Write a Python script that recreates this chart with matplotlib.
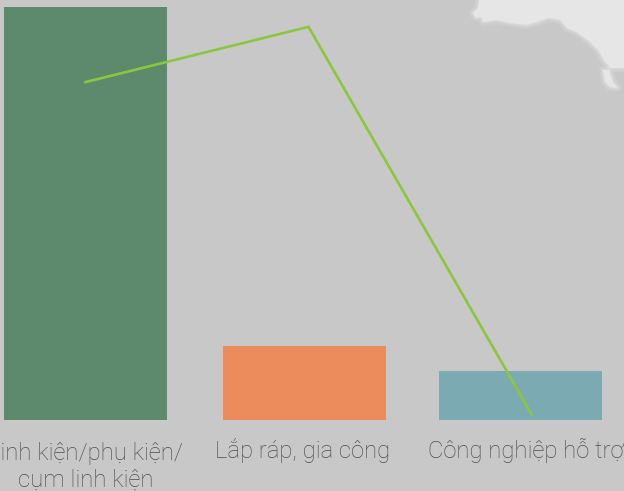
import matplotlib
matplotlib.use("Agg")
import matplotlib.pyplot as plt
from matplotlib.patches import Polygon

categories = ["Linh kiện/phụ kiện/\ncụm linh kiện", "Lắp ráp, gia công", "Công nghiệp hỗ trợ"]
bar_values = [77.0, 13.8, 9.1]
line_values = [63.0, 73.3, 1.1]
bar_colors = ["#5d8a6c", "#ec8c5c", "#7baab3"]
bar_slots = [0, 219 / 217.5, 2]
label_nudges = [0.5, -2, 5]
label_drops = [-48.0, -27.2, -27.2]
land_outline = [(479, 0), (478, 8), (473, 13), (476, 18), (481, 17), (483, 22), (495, 20), (510, 23), (527, 25),
                (540, 21), (549, 18), (560, 20), (567, 28), (578, 33), (590, 42), (598, 50), (605, 62),
                (611, 68), (624, 68), (624, 0)]
island_outline = [(603, 70), (609, 70), (613, 82), (618, 88), (610, 87), (605, 82)]

W, H = 624, 491
BG = "#c8c8c8"
fig = plt.figure(figsize=(W / 100, H / 100), dpi=100, facecolor=BG)

for outline in (land_outline, island_outline):
    pts = [(x / W, 1 - y / H) for x, y in outline]
    for lw, alpha in ((6, 0.15), (4, 0.2), (2, 0.3)):
        fig.add_artist(Polygon(pts, closed=True, transform=fig.transFigure, facecolor="none",
                               edgecolor="#e6e6e6", alpha=alpha, linewidth=lw, joinstyle="round", zorder=0))
    fig.add_artist(Polygon(pts, closed=True, transform=fig.transFigure, facecolor="#e6e6e6",
                           edgecolor="none", zorder=0))

ax = fig.add_axes([0, 1 - 420 / H, 1, 420 / H])
ax.patch.set_alpha(0)
ax.bar(bar_slots, bar_values, width=163 / 217.5, color=bar_colors, linewidth=0)
ax.set_xlim(-85.5 / 217.5, (624 - 85.5) / 217.5)
ax.set_ylim(0, 420 / 5.364)
ax.set_xticks([])
ax.set_yticks([])
for s in ax.spines.values():
    s.set_visible(False)
for slot, label, nudge, drop in zip(bar_slots, categories, label_nudges, label_drops):
    ax.annotate(label, xy=(slot, 0), xycoords=("data", "axes fraction"), xytext=(nudge * 0.72, drop),
                textcoords="offset points", ha="center", va="baseline", annotation_clip=False,
                family=["Roboto", "DejaVu Sans"], fontsize=17.2, fontweight="light",
                color="#4e4e4e", linespacing=1.22)

ax2 = fig.add_axes([0, 1 - 420 / H, 1, 420 / H])
ax2.patch.set_alpha(0)
ax2.plot([0, 1, 2], line_values, color="#8cc63f", linewidth=1.9, solid_joinstyle="miter")
ax2.set_xlim(-85.5 / 223, (624 - 85.5) / 223)
ax2.set_ylim(0, 420 / 5.364)
ax2.axis("off")

fig.savefig("out.png", dpi=100, facecolor=BG)
